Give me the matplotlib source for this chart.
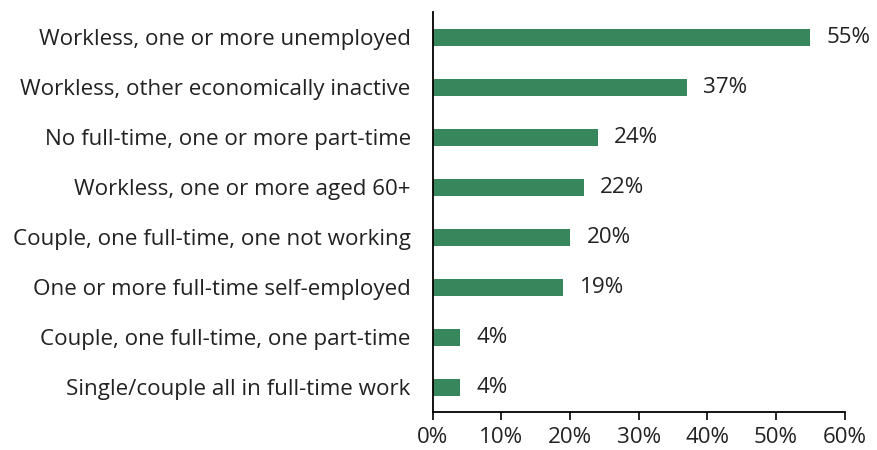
import matplotlib
matplotlib.use("Agg")
import matplotlib.pyplot as plt
from matplotlib.ticker import FuncFormatter

plt.rcParams['font.family'] = ['Open Sans', 'DejaVu Sans']

# categories, top to bottom
categories = [
    "Workless, one or more unemployed",
    "Workless, other economically inactive",
    "No full-time, one or more part-time",
    "Workless, one or more aged 60+",
    "Couple, one full-time, one not working",
    "One or more full-time self-employed",
    "Couple, one full-time, one part-time",
    "Single/couple all in full-time work",
]
values = [55, 37, 24, 22, 20, 19, 4, 4]
xticks = [0, 10, 20, 30, 40, 50, 60]

fs = 16.1
fig = plt.figure(figsize=(8.78, 4.5), dpi=100)
ax = fig.add_axes([0.493, 0.084, 0.469, 0.889])

ypos = list(range(len(categories)))
ax.barh(ypos, values, height=0.34, color='#37865C')
for y, v in zip(ypos, values):
    ax.text(v + 2.4, y, f"{v}%", va='center', ha='left', fontsize=fs, color='#222222')

ax.set_ylim(len(categories) - 0.5, -0.5)
ax.set_xlim(0, 60)
ax.set_yticks(ypos)
ax.set_yticklabels(categories, fontsize=fs, color='#222222')
ax.set_xticks(xticks)
ax.xaxis.set_major_formatter(FuncFormatter(lambda x, p: f"{x:.0f}%"))
ax.tick_params(axis='x', labelsize=fs, labelcolor='#222222', length=6, width=1.2, direction='out', pad=5)
ax.tick_params(axis='y', length=0, pad=16)

for s in ['top', 'right']:
    ax.spines[s].set_visible(False)
for s in ['left', 'bottom']:
    ax.spines[s].set_linewidth(1.3)
    ax.spines[s].set_color('black')

fig.savefig('out.png', dpi=100)
